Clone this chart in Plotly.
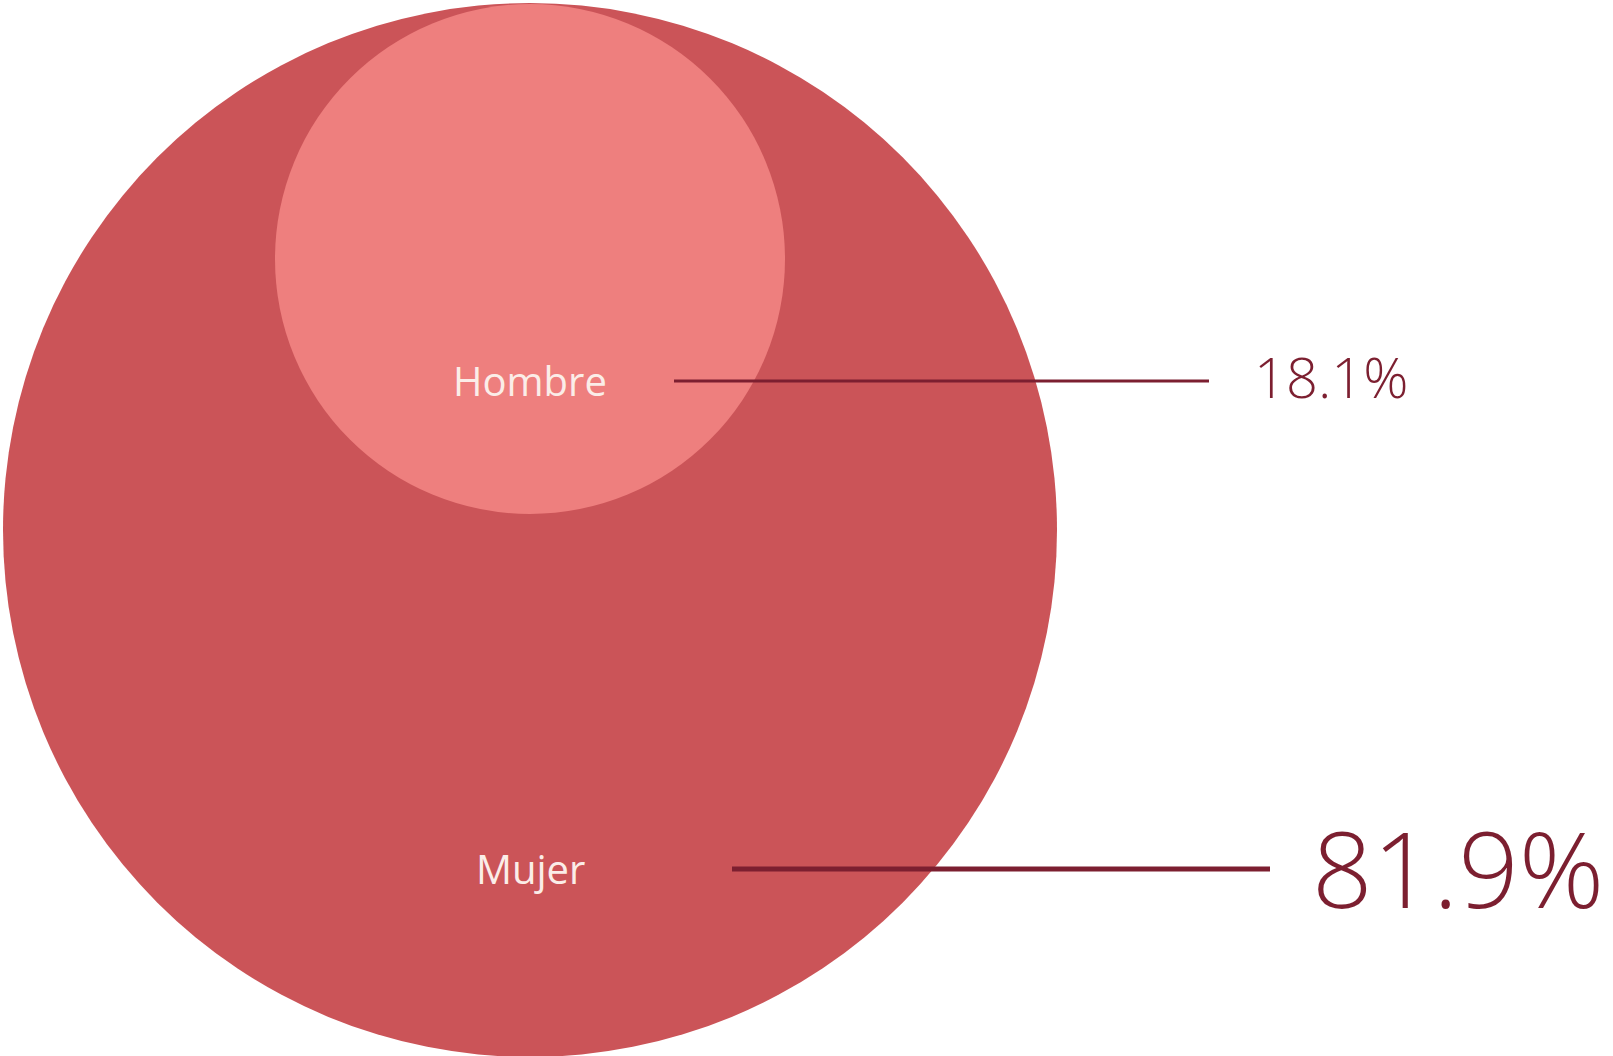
import plotly.graph_objects as go

# ---- data ----
categories = ["Hombre", "Mujer"]
values = [18.1, 81.9]

# ---- layout constants (page pixel coordinates) ----
W, H = 1613, 1056
big = dict(cx=530, cy=530, r=527)
small = dict(cx=530, cy=259, r=255)
label_y = {"Hombre": 380, "Mujer": 868}
line_x = {"Hombre": (674, 1209), "Mujer": (732, 1270)}
value_x = {"Hombre": 1252, "Mujer": 1310}
value_dy = {"Hombre": -4, "Mujer": -1}
value_size = {"Hombre": 56, "Mujer": 106}
line_w = {"Hombre": 3, "Mujer": 5}

c_big = "#CB5458"
c_small = "#EE7F7E"
c_dark = "#7C1F30"
c_label = "#FBEDE8"
FONT = "Open Sans"

fig = go.Figure()
fig.add_trace(go.Scatter(x=[0, W], y=[0, H], mode="markers", marker=dict(opacity=0), hoverinfo="skip", showlegend=False))

shapes = [
    dict(type="circle", xref="x", yref="y", layer="below",
         x0=big["cx"] - big["r"], x1=big["cx"] + big["r"], y0=big["cy"] - big["r"], y1=big["cy"] + big["r"],
         fillcolor=c_big, line=dict(width=0)),
    dict(type="circle", xref="x", yref="y", layer="below",
         x0=small["cx"] - small["r"], x1=small["cx"] + small["r"], y0=small["cy"] - small["r"], y1=small["cy"] + small["r"],
         fillcolor=c_small, line=dict(width=0)),
]
annotations = []
for cat, val in zip(categories, values):
    y = label_y[cat]
    x0, x1 = line_x[cat]
    shapes.append(dict(type="line", xref="x", yref="y", x0=x0, x1=x1, y0=y + 1, y1=y + 1,
                       line=dict(color=c_dark, width=line_w[cat])))
    annotations.append(dict(x=530, y=y, xref="x", yref="y", text=cat, showarrow=False,
                            xanchor="center", yanchor="middle",
                            font=dict(family=FONT, size=40, color=c_label)))
    annotations.append(dict(x=value_x[cat], y=y + value_dy[cat], xref="x", yref="y", text=f"{val:.1f}%", showarrow=False,
                            xanchor="left", yanchor="middle",
                            font=dict(family=FONT, size=value_size[cat], color=c_dark, weight=300)))

fig.update_layout(
    width=W, height=H, margin=dict(l=0, r=0, t=0, b=0),
    paper_bgcolor="white", plot_bgcolor="white",
    xaxis=dict(range=[0, W], visible=False, fixedrange=True),
    yaxis=dict(range=[H, 0], visible=False, fixedrange=True),
    shapes=shapes, annotations=annotations, showlegend=False,
)

fig.write_html("out.html", config={"displayModeBar": False, "staticPlot": True},
               post_script="document.body.style.margin='0';document.body.style.overflow='hidden';")
